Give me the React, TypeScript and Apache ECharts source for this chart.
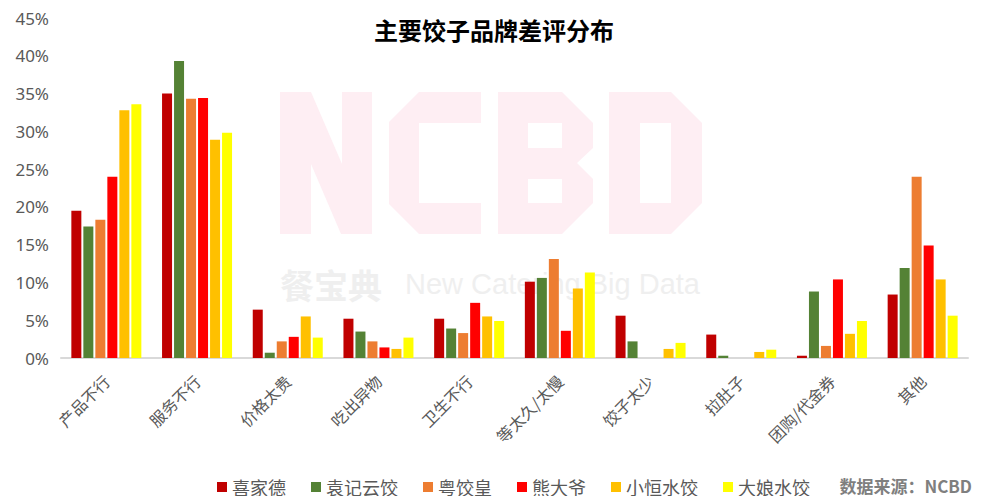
import React, { useEffect, useRef } from "react";
import * as echarts from "echarts";

const categories = ["产品不行", "服务不行", "价格太贵", "吃出异物", "卫生不行", "等太久/太慢", "饺子太少", "拉肚子", "团购/代金券", "其他"];
const brands = ["喜家德", "袁记云饺", "粤饺皇", "熊大爷", "小恒水饺", "大娘水饺"];
const colors = ["#C00000", "#548235", "#ED7D31", "#FF0000", "#FFC000", "#FFFF00"];

const xiJiaDe = [19.5, 35.0, 6.4, 5.2, 5.2, 10.1, 5.6, 3.1, 0.3, 8.4];
const yuanJi = [17.4, 39.3, 0.7, 3.5, 3.9, 10.6, 2.2, 0.3, 8.8, 11.9];
const yueJiaoHuang = [18.3, 34.3, 2.2, 2.2, 3.3, 13.1, 0, 0, 1.6, 24.0];
const xiongDaYe = [24.0, 34.4, 2.8, 1.4, 7.3, 3.6, 0, 0, 10.4, 14.9];
const xiaoHeng = [32.8, 28.9, 5.5, 1.2, 5.5, 9.2, 1.2, 0.8, 3.2, 10.4];
const daNiang = [33.6, 29.8, 2.7, 2.7, 4.9, 11.3, 2.0, 1.1, 4.9, 5.6];
const seriesValues = [xiJiaDe, yuanJi, yueJiaoHuang, xiongDaYe, xiaoHeng, daNiang];

const yTicks = { min: 0, max: 45, interval: 5 };

const WM = "#FEEEF3";

export default function App() {
  const ref = useRef<HTMLDivElement>(null);
  useEffect(() => {
    if (!ref.current) return;
    const chart = echarts.init(ref.current, undefined, { renderer: "svg" });
    const poly = (points: number[][]) => ({
      type: "polygon",
      z: 0,
      silent: true,
      shape: { points },
      style: { fill: WM },
    });
    const hole = (x: number, y: number, width: number, height: number) => ({
      type: "rect",
      z: 0,
      silent: true,
      shape: { x, y, width, height },
      style: { fill: "#FFFFFF" },
    });
    chart.setOption({
      animation: false,
      backgroundColor: "#FFFFFF",
      title: {
        text: "主要饺子品牌差评分布",
        left: "center",
        top: 12,
        textStyle: { fontSize: 24, fontWeight: "bold", color: "#000000", fontFamily: "Noto Sans CJK SC" },
      },
      graphic: [
        poly([[280, 92], [311, 92], [342, 164], [342, 92], [372, 92], [372, 234], [341, 234], [311, 164], [311, 234], [280, 234]]),
        poly([[419, 92], [481, 92], [481, 123], [419, 123], [419, 203], [481, 203], [481, 234], [419, 234], [389, 204], [389, 122]]),
        poly([[498, 92], [562, 92], [593, 123], [593, 148], [577, 163], [593, 179], [593, 203], [562, 234], [498, 234]]),
        poly([[609, 92], [671, 92], [702, 123], [702, 203], [671, 234], [609, 234]]),
        hole(528, 179, 34, 24),
        hole(528, 123, 34, 25),
        hole(640, 123, 31, 80),
        {
          type: "text",
          z: 0,
          silent: true,
          x: 280,
          y: 284,
          style: {
            text: "餐宝典",
            fontSize: 34,
            fontWeight: "bold",
            fontFamily: "Noto Sans CJK SC",
            fill: "#EFEFEF",
            verticalAlign: "middle",
          },
        },
        {
          type: "text",
          z: 0,
          silent: true,
          x: 405,
          y: 284,
          style: {
            text: "New Catering Big Data",
            fontSize: 29,
            fontFamily: "Liberation Sans",
            fill: "#EFEFEF",
            verticalAlign: "middle",
          },
        },
        {
          type: "text",
          right: 16,
          top: 477,
          style: {
            text: "数据来源：NCBD",
            fontSize: 17,
            fontWeight: "bold",
            fontFamily: "Noto Sans CJK SC",
            fill: "#7F7F7F",
          },
        },
      ],
      legend: {
        data: brands,
        left: 217,
        top: 478,
        padding: 0,
        itemWidth: 10,
        itemHeight: 10,
        itemGap: 25,
        icon: "rect",
        textStyle: { fontSize: 18, color: "#595959", fontFamily: "Noto Sans CJK SC" },
      },
      grid: { left: 61, right: 20, top: 18, bottom: 146, containLabel: false },
      xAxis: {
        type: "category",
        data: categories,
        axisLine: { show: true, lineStyle: { color: "#D9D9D9", width: 2 } },
        axisTick: { show: false },
        axisLabel: {
          rotate: 45,
          interval: 0,
          fontSize: 16,
          color: "#595959",
          margin: 20,
          fontFamily: "Noto Sans CJK SC",
        },
      },
      yAxis: {
        type: "value",
        min: yTicks.min,
        max: yTicks.max,
        interval: yTicks.interval,
        axisLine: { show: false },
        axisTick: { show: false },
        splitLine: { show: false },
        axisLabel: {
          formatter: "{value}%",
          fontSize: 17,
          color: "#595959",
          margin: 12,
          fontFamily: "Noto Sans",
        },
      },
      series: brands.map((name, i) => ({
        name,
        type: "bar",
        data: seriesValues[i],
        barWidth: 10,
        barGap: "20%",
        itemStyle: { color: colors[i] },
        z: 2,
      })),
    });
    return () => chart.dispose();
  }, []);
  return <div ref={ref} style={{ width: 988, height: 504, margin: -8 }} />;
}
